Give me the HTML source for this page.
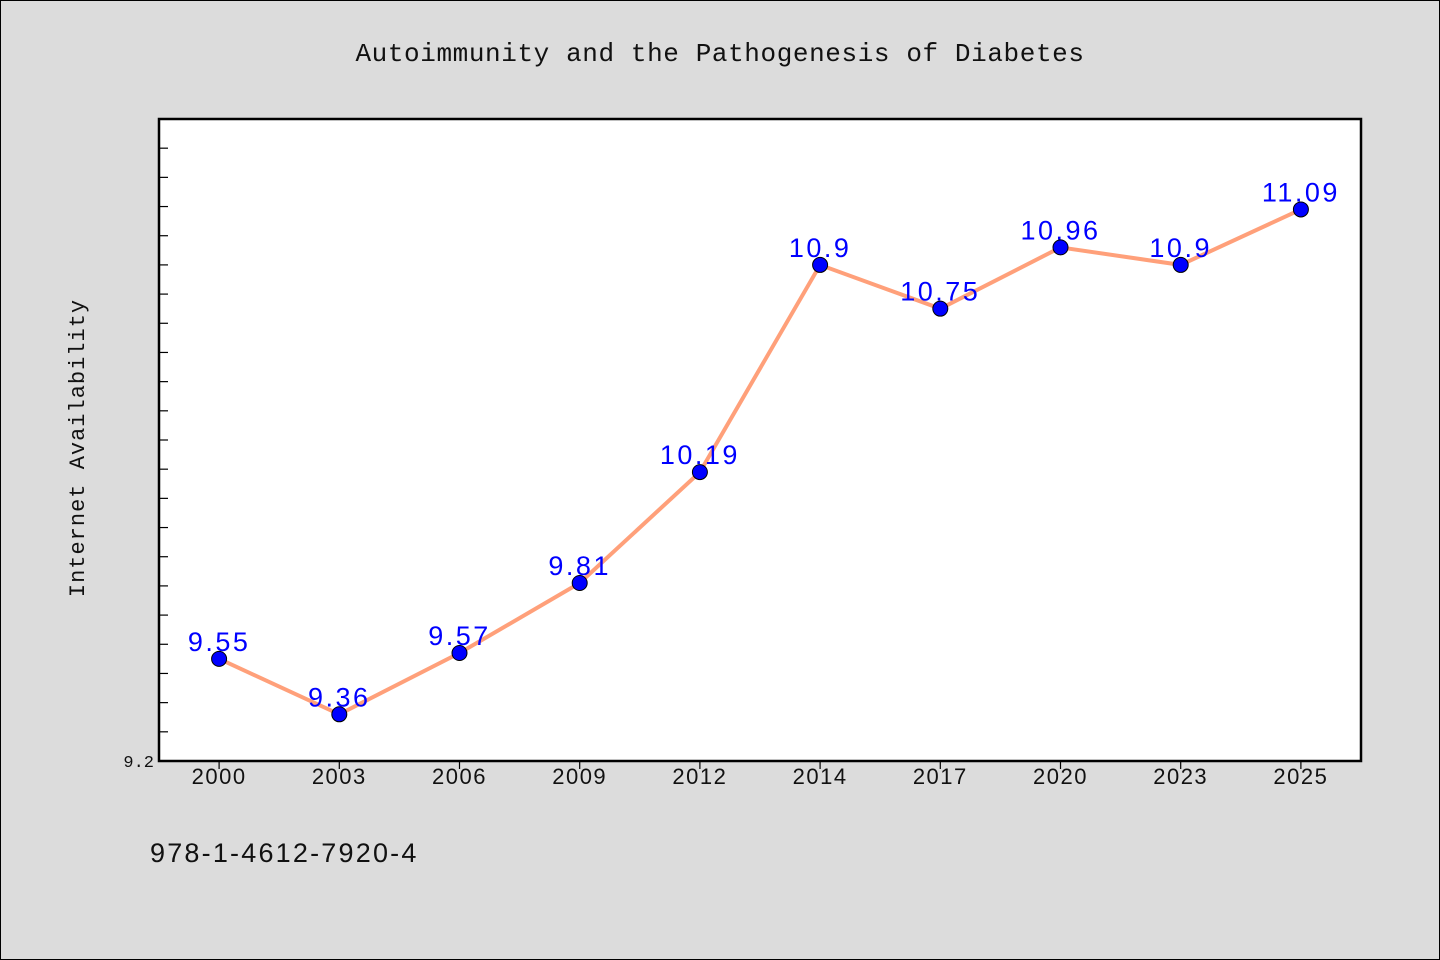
<!DOCTYPE html>
<html><head><meta charset="utf-8"><style>
body{margin:0;background:#dcdcdc;}
svg{display:block}
</style></head><body>
<svg id="c" width="1440" height="960" xmlns="http://www.w3.org/2000/svg" style="font-family:'Liberation Mono',monospace">
<rect x="0.5" y="0.5" width="1439" height="959" fill="#dcdcdc" stroke="#000"/>
<text x="720" y="61" text-anchor="middle" font-size="26" letter-spacing="0.6" fill="#111">Autoimmunity and the Pathogenesis of Diabetes</text>
<rect x="159" y="119" width="1202" height="642" fill="#fff" stroke="#000" stroke-width="2.5"/>
<text transform="translate(84,448) rotate(-90)" text-anchor="middle" font-size="22" letter-spacing="1" fill="#111">Internet Availability</text>
<text x="150" y="862" font-size="27" letter-spacing="2.2" fill="#111" style="font-family:'Liberation Sans',sans-serif">978-1-4612-7920-4</text>
<g id="axes"></g>
<g id="marks"></g>
</svg>
<script>
const categories=["2000","2003","2006","2009","2012","2014","2017","2020","2023","2025"];
const values=[9.55,9.36,9.57,9.81,10.19,10.9,10.75,10.96,10.9,11.09];
const yTickLabels=["9.2"];
const yMin=9.2,yMax=11.4;
const L=159,R=1361,T=119,B=761;
const NS="http://www.w3.org/2000/svg";
const bw=(R-L)/categories.length;
function x(i){return L+bw*(i+0.5);}
function y(v){return B-(v-yMin)/(yMax-yMin)*(B-T);}
function mk(t,a,p){const e=document.createElementNS(NS,t);for(const k in a)e.setAttribute(k,a[k]);p.appendChild(e);return e;}
const ax=document.getElementById('axes'),mg=document.getElementById('marks');
for(let k=1;k<22;k++){const v=yMin+k*0.1;const t=mk('line',{x1:L,x2:L+9,y1:y(v),y2:y(v),stroke:'#000','stroke-width':1.2},ax);

}
yTickLabels.forEach(s=>{const t=mk('text',{x:154,y:y(parseFloat(s))+6,'text-anchor':'end','font-size':17,fill:'#111'},ax);t.textContent=s;

});
categories.forEach((c,i)=>{const l=mk('line',{x1:x(i),x2:x(i),y1:B,y2:B+8,stroke:'#000','stroke-width':1.2},ax);


const t=mk('text',{x:x(i),y:B+23,'text-anchor':'middle','font-size':22,'letter-spacing':1.5,fill:'#111',style:"font-family:'Liberation Sans',sans-serif"},ax);t.textContent=c;

});
const pl=mk('polyline',{points:values.map((v,i)=>x(i)+','+y(v)).join(' '),fill:'none',stroke:'#ffa07a','stroke-width':4},mg);


values.forEach((v,i)=>{const c=mk('circle',{cx:x(i),cy:y(v),r:7.5,fill:'#0000ff',stroke:'#000','stroke-width':1},mg);


const t=mk('text',{x:x(i),y:y(v)-8,'text-anchor':'middle','font-size':27,'letter-spacing':2.5,fill:'#0000ff',style:"font-family:'Liberation Sans',sans-serif"},mg);t.textContent=String(v);

});
</script>
</body></html>
